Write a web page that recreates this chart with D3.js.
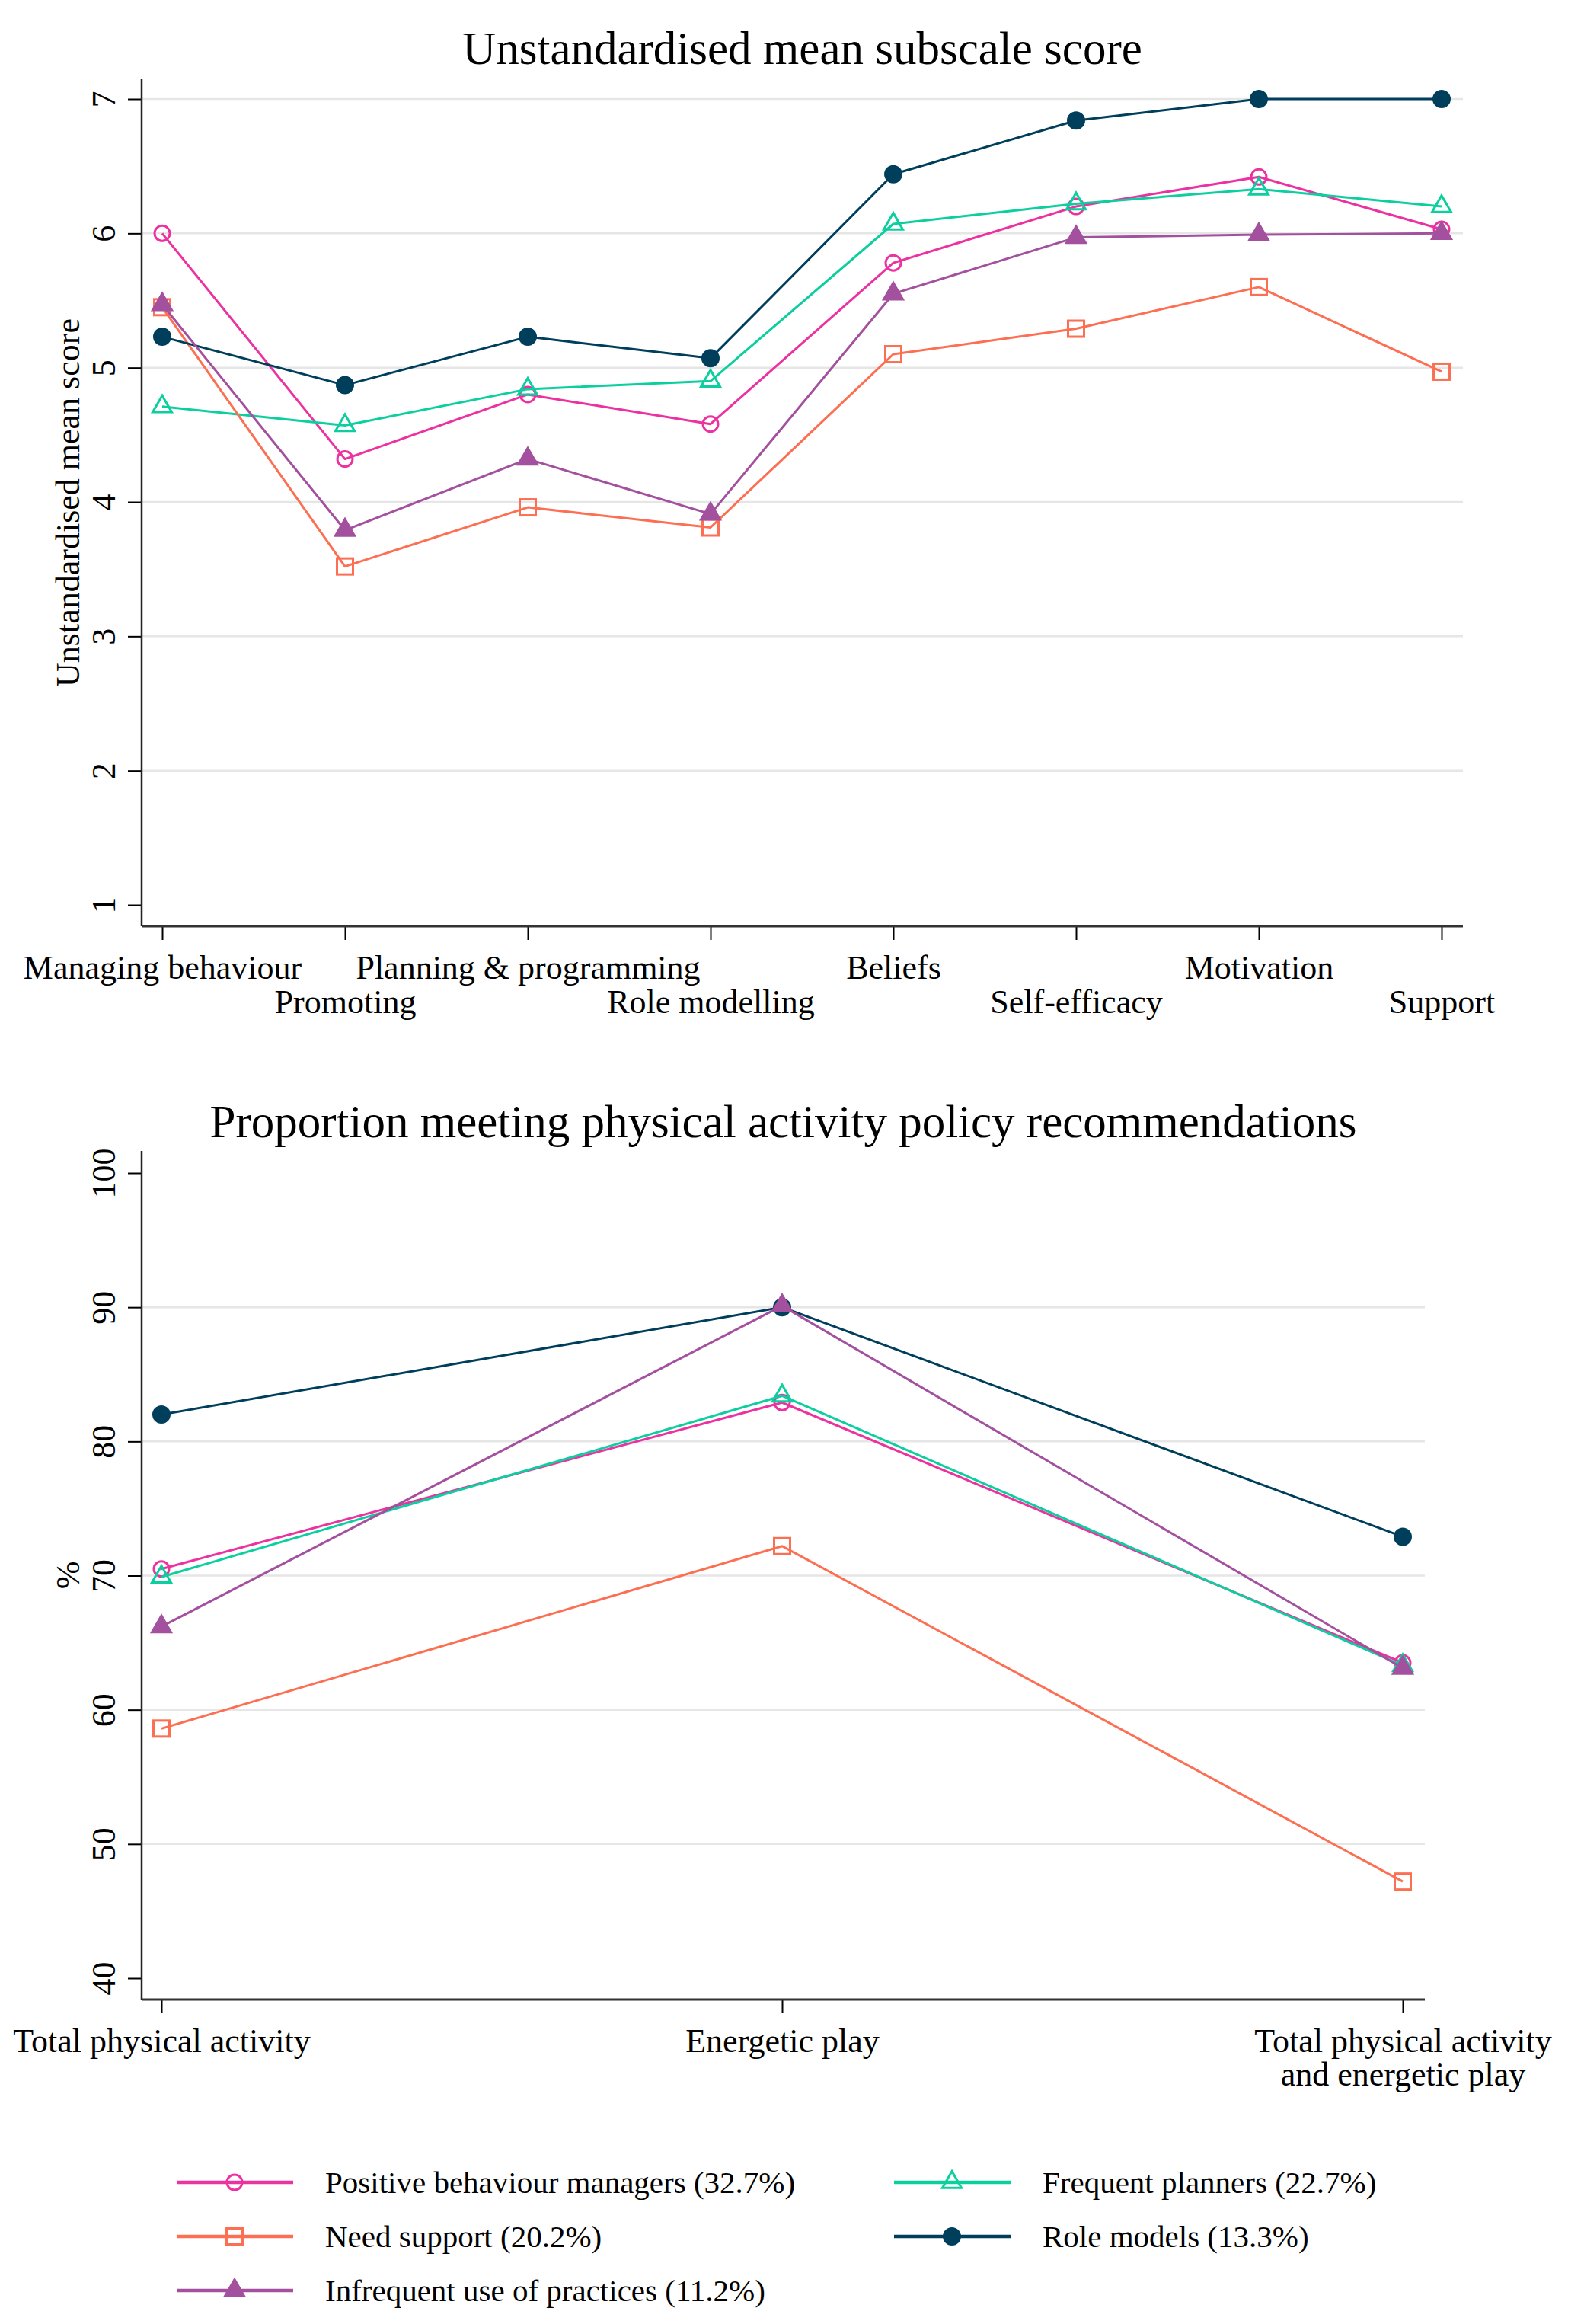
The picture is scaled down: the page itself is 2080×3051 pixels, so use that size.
<!DOCTYPE html>
<html>
<head>
<meta charset="utf-8">
<script src="https://cdn.jsdelivr.net/npm/d3@7"></script>
<style>
  body { margin: 0; background: #fff; }
  text { font-family: "Liberation Serif", "Times New Roman", serif; fill: #000; }
</style>
</head>
<body>
<div class="canvas"></div>
<script>
// ---- data ----
const subscales = ["Managing behaviour", "Promoting", "Planning & programming", "Role modelling",
  "Beliefs", "Self-efficacy", "Motivation", "Support"];
const scoreTicks = [1, 2, 3, 4, 5, 6, 7];

const scorePositive = [6.00, 4.32, 4.80, 4.58, 5.78, 6.20, 6.42, 6.03];
const scorePlanners = [4.71, 4.57, 4.84, 4.90, 6.07, 6.22, 6.33, 6.20];
const scoreNeed     = [5.45, 3.52, 3.96, 3.81, 5.10, 5.29, 5.60, 4.97];
const scoreRole     = [5.23, 4.87, 5.23, 5.07, 6.44, 6.84, 7.00, 7.00];
const scoreInfreq   = [5.47, 3.79, 4.32, 3.91, 5.55, 5.97, 5.99, 6.00];

const activities = [["Total physical activity"], ["Energetic play"],
  ["Total physical activity", "and energetic play"]];
const pctTicks = [40, 50, 60, 70, 80, 90, 100];

const pctPositive = [70.5, 82.9, 63.5];
const pctPlanners = [69.9, 83.4, 63.3];
const pctNeed     = [58.6, 72.2, 47.2];
const pctRole     = [82.0, 90.0, 72.9];
const pctInfreq   = [66.2, 90.1, 63.1];

const groupNames = ["Positive behaviour managers (32.7%)", "Frequent planners (22.7%)",
  "Need support (20.2%)", "Role models (13.3%)", "Infrequent use of practices (11.2%)"];

// series styling (drawing order = legend order)
const styles = [
  { color: "#ec31a0", marker: "circleOpen" },
  { color: "#0ccf9f", marker: "triangleOpen" },
  { color: "#fd6f52", marker: "squareOpen" },
  { color: "#003f5c", marker: "circleFilled" },
  { color: "#a3519f", marker: "triangleFilled" },
];

const W = 2080, H = 3051;
const svg = d3.select(".canvas").append("svg")
  .attr("width", W).attr("height", H)
  .style("background", "#fff");

const FS = 44;

// marker shapes
const drawMarker = (g, type, color, cx, cy) => {
  const sw = 3;
  if (type === "circleOpen" || type === "circleFilled") {
    g.append("circle")
      .attr("cx", cx).attr("cy", cy)
      .attr("r", type === "circleOpen" ? 10 : 10.5)
      .attr("fill", type === "circleOpen" ? "none" : color)
      .attr("stroke", color).attr("stroke-width", sw);
  } else if (type === "squareOpen") {
    g.append("rect")
      .attr("x", cx - 10.5).attr("y", cy - 10.5)
      .attr("width", 21).attr("height", 21)
      .attr("fill", "none").attr("stroke", color).attr("stroke-width", sw);
  } else {
    const s = 25, h = s * Math.sqrt(3) / 2;
    const p = `M${cx},${cy - 2 * h / 3}L${cx + s / 2},${cy + h / 3}L${cx - s / 2},${cy + h / 3}Z`;
    g.append("path").attr("d", p)
      .attr("fill", type === "triangleOpen" ? "none" : color)
      .attr("stroke", color).attr("stroke-width", sw)
      .attr("stroke-linejoin", "miter");
  }
};

// generic panel
const panel = (cfg) => {
  const g = svg.append("g");
  const x = d3.scalePoint().domain(d3.range(cfg.cats.length)).range(cfg.xRange);
  const y = d3.scaleLinear().domain(cfg.yDomain).range(cfg.yRange);

  // gridlines
  g.append("g").selectAll("line").data(cfg.grid).join("line")
    .attr("x1", cfg.left).attr("x2", cfg.right)
    .attr("y1", d => y(d)).attr("y2", d => y(d))
    .attr("stroke", "#e6e6e6").attr("stroke-width", 2.5);

  // y axis
  const ya = g.append("g").attr("transform", `translate(${cfg.left},0)`)
    .call(d3.axisLeft(y).tickValues(cfg.yTicks).tickFormat(d3.format("d"))
      .tickSize(18).tickSizeOuter(0));
  ya.select(".domain").remove();
  ya.selectAll(".tick line").attr("stroke", "#000").attr("stroke-width", 2);
  ya.selectAll(".tick text")
    .attr("x", 0).attr("y", -35).attr("dy", 0)
    .attr("text-anchor", "middle")
    .attr("transform", "rotate(-90)")
    .style("font-size", FS + "px")
    .style("font-family", '"Liberation Serif", serif');

  // x axis
  const xa = g.append("g").attr("transform", `translate(0,${cfg.bottom})`)
    .call(d3.axisBottom(x).tickSize(18).tickSizeOuter(0).tickFormat(""));
  xa.select(".domain").remove();
  xa.selectAll(".tick line").attr("stroke", "#000").attr("stroke-width", 2);
  xa.selectAll(".tick").each(function (d) {
    const t = d3.select(this).append("text")
      .attr("text-anchor", "middle")
      .attr("fill", "#000")
      .style("font-size", FS + "px")
      .style("font-family", '"Liberation Serif", serif');
    const lines = [].concat(cfg.cats[d]);
    const base = cfg.stagger && d % 2 === 1 ? 114 : 69;
    lines.forEach((ln, k) => {
      t.append("tspan").attr("x", 0).attr("y", base + k * 44).text(ln);
    });
  });

  // axis lines
  g.append("line").attr("x1", cfg.left).attr("x2", cfg.left)
    .attr("y1", cfg.top).attr("y2", cfg.bottom)
    .attr("stroke", "#222").attr("stroke-width", 2.5);
  g.append("line").attr("x1", cfg.left).attr("x2", cfg.right)
    .attr("y1", cfg.bottom).attr("y2", cfg.bottom)
    .attr("stroke", "#333").attr("stroke-width", 3);

  // titles
  g.append("text")
    .attr("x", (cfg.left + cfg.right) / 2).attr("y", cfg.titleY)
    .attr("text-anchor", "middle")
    .style("font-size", "61px")
    .text(cfg.title);
  g.append("text")
    .attr("transform", `translate(104,${(cfg.top + cfg.bottom) / 2}) rotate(-90)`)
    .attr("text-anchor", "middle")
    .style("font-size", FS + "px")
    .text(cfg.yTitle);

  // series
  const line = d3.line().x((d, i) => x(i)).y(d => y(d));
  cfg.series.forEach((vals, s) => {
    const st = styles[s];
    const sg = g.append("g");
    sg.append("path").datum(vals)
      .attr("d", line)
      .attr("fill", "none")
      .attr("stroke", st.color)
      .attr("stroke-width", 3)
      .attr("stroke-linejoin", "round");
    vals.forEach((v, i) => drawMarker(sg, st.marker, st.color, x(i), y(v)));
  });
};

// top panel: y(7)=130, y(1)=1188
panel({
  title: "Unstandardised mean subscale score",
  titleY: 84,
  yTitle: "Unstandardised mean score",
  cats: subscales,
  stagger: true,
  left: 186, right: 1921, top: 104, bottom: 1216,
  xRange: [213, 1893],
  yDomain: [1, 7], yRange: [1188, 130],
  yTicks: scoreTicks,
  grid: scoreTicks.filter(d => d > 1),
  series: [scorePositive, scorePlanners, scoreNeed, scoreRole, scoreInfreq],
});

// bottom panel: y(100)=1540, y(40)=2597
panel({
  title: "Proportion meeting physical activity policy recommendations",
  titleY: 1493,
  yTitle: "%",
  cats: activities,
  stagger: false,
  left: 186, right: 1871, top: 1511, bottom: 2625,
  xRange: [212, 1842],
  yDomain: [40, 100], yRange: [2597, 1540],
  yTicks: pctTicks,
  grid: pctTicks.filter(d => d > 40 && d < 100),
  series: [pctPositive, pctPlanners, pctNeed, pctRole, pctInfreq],
});

// legend (two columns, filled row-wise)
const legend = svg.append("g");
const colX = [232, 1174];
const rowY = [2865, 2936, 3007];
groupNames.forEach((name, i) => {
  const cx = colX[i % 2], cy = rowY[Math.floor(i / 2)];
  const st = styles[i];
  legend.append("line")
    .attr("x1", cx).attr("x2", cx + 153)
    .attr("y1", cy).attr("y2", cy)
    .attr("stroke", st.color).attr("stroke-width", 4.5);
  drawMarker(legend, st.marker, st.color, cx + 76, cy);
  legend.append("text")
    .attr("x", cx + 195).attr("y", cy + 14)
    .style("font-size", "41px")
    .text(name);
});
</script>
</body>
</html>
